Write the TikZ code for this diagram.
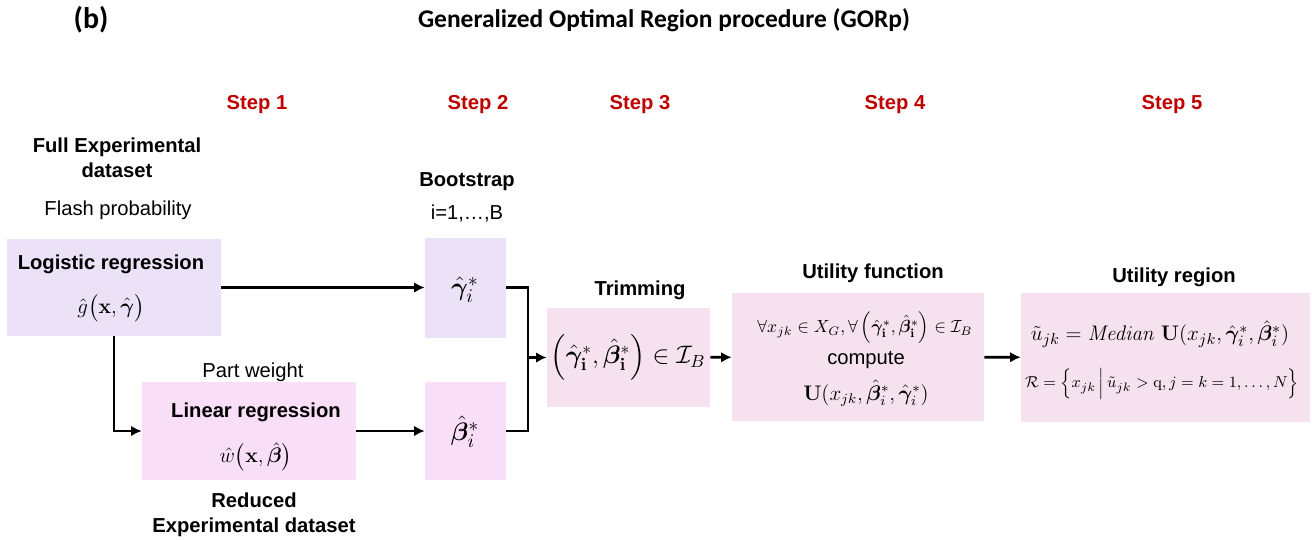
\documentclass[tikz,border=0pt]{standalone}
\usepackage{amsmath,amssymb}
\usepackage{bm}
\usepackage[no-math]{fontspec}
\setmainfont{Liberation Sans}
\newfontfamily\calibri{Carlito}
\usetikzlibrary{arrows.meta}
\tikzset{>={Latex[length=6pt,width=6pt]}}
\definecolor{mylav}{RGB}{235, 226, 247}
\definecolor{mypink}{RGB}{248, 222, 246}
\definecolor{myrose}{RGB}{246, 226, 239}
\definecolor{stepred}{RGB}{192, 0, 0}

\tikzset{
  lbl/.style = {font=\fontsize{11.5}{14}\selectfont\bfseries, align=center},
  plain/.style = {font=\fontsize{11.5}{14}\selectfont},
  steplbl/.style = {lbl, text=stepred},
  box/.style = {inner sep=0pt},
  eq/.style = {inner sep=0pt, font=\fontsize{13}{15}\selectfont},
  flow/.style = {line width=1.6pt},
}

\begin{document}
\begin{tikzpicture}[x=0.02cm, y=-0.02cm]
\useasboundingbox (0,0) rectangle (1312,539);

% heading
\node[font=\calibri\fontsize{17}{20}\selectfont\bfseries] (panel) at (91, 20) {(b)};
\node[font=\calibri\fontsize{14.5}{17}\selectfont\bfseries] (title) at (664, 20) {Generalized Optimal Region procedure (GORp)};

% step labels
\node[steplbl] (s1) at (257, 105) {Step 1};
\node[steplbl] (s2) at (478, 105) {Step 2};
\node[steplbl] (s3) at (640, 105) {Step 3};
\node[steplbl] (s4) at (895, 105) {Step 4};
\node[steplbl] (s5) at (1172, 105) {Step 5};

% step 1
\node[lbl] (fullexp) at (117, 158) {Full Experimental\\dataset};
\node[plain] (flash) at (118, 210) {Flash probability};
\node[box, fill=mylav, minimum width=4.28cm, minimum height=1.94cm] (logit) at (114, 287.5) {};
\node[lbl] (logitname) at (111, 264) {Logistic regression};
\node[eq] (logitfn) at (111, 308) {$\hat{g}\bigl(\mathbf{x},\hat{\bm{\gamma}}\bigr)$};
\node[plain] (partw) at (253, 372) {Part weight};
\node[box, fill=mypink, minimum width=4.28cm, minimum height=1.96cm] (linreg) at (249, 431) {};
\node[lbl] (linname) at (256, 412) {Linear regression};
\node[eq] (linfn) at (256, 457) {$\hat{w}\bigl(\mathbf{x},\hat{\bm{\beta}}\bigr)$};
\node[lbl] (reduced) at (254, 515) {Reduced\\Experimental dataset};

% step 2
\node[lbl] (boot) at (467, 182) {Bootstrap};
\node[plain] (idx) at (467, 213) {i=1,\dots,B};
\node[box, fill=mylav, minimum width=1.62cm, minimum height=2.0cm] (gam) at (465.5, 287.5) {};
\node[eq, font=\fontsize{15}{17}\selectfont] (gamval) at (465, 290) {$\hat{\bm{\gamma}}^*_i$};
\node[box, fill=mypink, minimum width=1.62cm, minimum height=1.96cm] (bet) at (465.5, 431) {};
\node[eq, font=\fontsize{15}{17}\selectfont] (betval) at (465, 432) {$\hat{\bm{\beta}}^*_i$};

% step 3
\node[lbl] (trimlbl) at (640, 290) {Trimming};
\node[box, fill=myrose, minimum width=3.26cm, minimum height=1.98cm] (trim) at (628.5, 357.5) {};
\node[eq, font=\fontsize{14.5}{17}\selectfont] (trimval) at (628, 357)
  {$\left(\hat{\bm{\gamma}}^*_{\mathbf{i}},\hat{\bm{\beta}}^*_{\mathbf{i}}\right)\in\mathcal{I}_B$};

% step 4
\node[lbl] (utillbl) at (873, 273) {Utility function};
\node[box, fill=myrose, minimum width=5.04cm, minimum height=2.56cm] (util) at (858, 357) {};
\node[eq, font=\fontsize{10}{12}\selectfont] (forall) at (865, 328)
  {$\forall x_{jk}\in X_G,\forall\left(\hat{\bm{\gamma}}^*_{\mathbf{i}},\hat{\bm{\beta}}^*_{\mathbf{i}}\right)\in\mathcal{I}_B$};
\node[plain] (compute) at (866, 360) {compute};
\node[eq, font=\fontsize{12}{14}\selectfont] (ufn) at (866, 393)
  {$\mathbf{U}(x_{jk},\hat{\bm{\beta}}^*_i,\hat{\bm{\gamma}}^*_i)$};

% step 5
\node[lbl] (ureglbl) at (1174, 277) {Utility region};
\node[box, fill=myrose, minimum width=5.78cm, minimum height=2.58cm] (ureg) at (1165.5, 357.5) {};
\node[eq, font=\fontsize{12.3}{15}\selectfont] (median) at (1160, 334)
  {$\tilde{u}_{jk}=\mathit{Median}\;\mathbf{U}(x_{jk},\hat{\bm{\gamma}}^*_i,\hat{\bm{\beta}}^*_i)$};
\node[eq, font=\fontsize{9.5}{12}\selectfont] (region) at (1162, 384)
  {$\mathcal{R}=\Bigl\{x_{jk}\,\Big|\,\tilde{u}_{jk}>\mathrm{q},j=k=1,\ldots,N\Bigr\}$};

% connectors
\coordinate (join) at (528, 357.5);
\draw[flow, ->] (logit) -- (gam);
\draw[flow, ->] (logit.south) |- (linreg.west);
\draw[flow, ->] (linreg) -- (bet);
\draw[flow] (gam.east) -| (join) |- (bet.east);
\draw[flow, ->] (join) -- (trim.west);
\draw[flow, ->] (trim) -- (util);
\draw[flow, ->] (util) -- (ureg);
\end{tikzpicture}
\end{document}
